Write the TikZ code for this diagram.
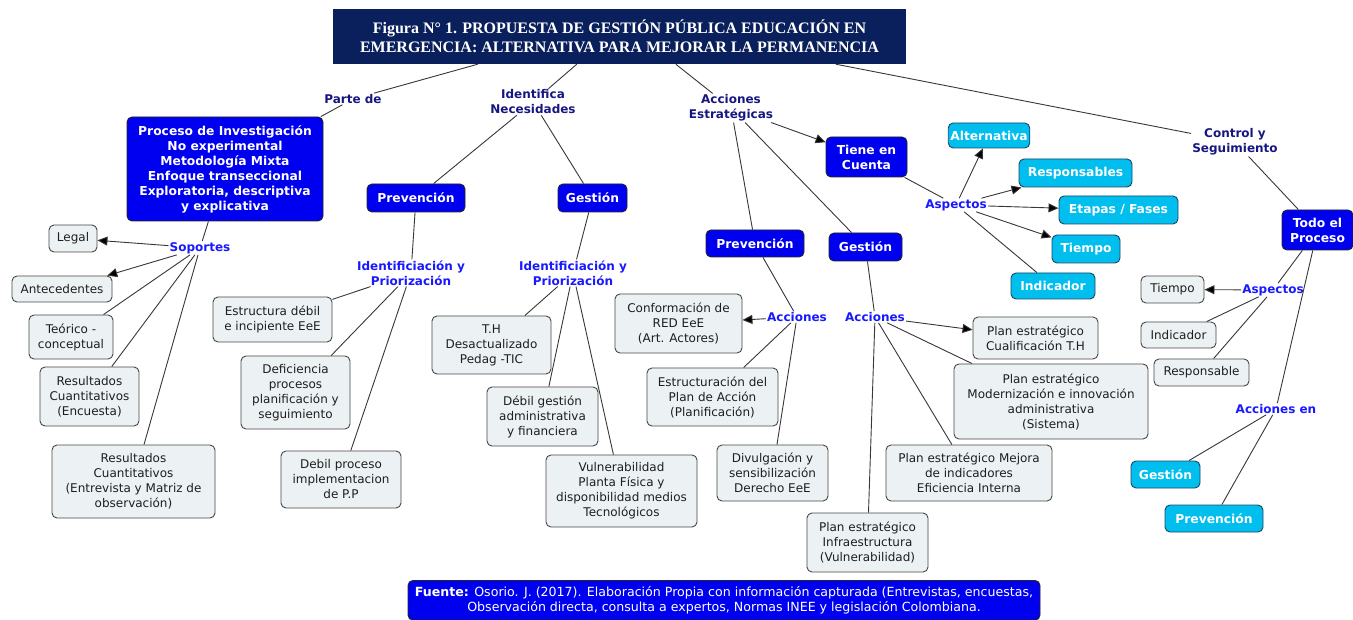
\documentclass[tikz,border=0pt]{standalone}
\usepackage{fontspec}
\setmainfont{DejaVu Sans}
\newfontfamily\titlefont{Liberation Serif}
\usetikzlibrary{arrows.meta}
\definecolor{navy}{RGB}{10,32,92}
\definecolor{bblue}{RGB}{0,0,240}
\definecolor{ccyan}{RGB}{0,190,238}
\definecolor{cyanborder}{RGB}{30,70,100}
\definecolor{boxfill}{RGB}{236,242,244}
\definecolor{boxgrey}{RGB}{70,70,70}
\definecolor{textgrey}{RGB}{30,30,30}
\definecolor{darklink}{RGB}{22,22,130}
\definecolor{brightlink}{RGB}{25,25,255}
\definecolor{linegrey}{RGB}{55,55,55}
\tikzset{
  base/.style={rounded corners=5pt, line width=0.9pt, align=center, inner sep=2pt,
    font=\fontsize{12}{15}\selectfont},
  greybox/.style={base, draw=boxgrey, fill=boxfill, text=textgrey},
  bluebox/.style={base, draw=black!85, fill=bblue, text=white,
    font=\bfseries\fontsize{12.3}{15}\selectfont},
  cyanbox/.style={base, draw=cyanborder, fill=ccyan, text=white,
    font=\bfseries\fontsize{12.3}{15}\selectfont},
  lnk/.style={text=darklink, font=\bfseries\fontsize{12}{15}\selectfont, align=center, inner sep=1pt},
  lnkb/.style={lnk, text=brightlink},
  con/.style={draw=linegrey, line width=0.9pt},
  arr/.style={con, -{Triangle[length=10pt,width=9pt,fill=black]}},
}
\begin{document}
\begin{tikzpicture}[x=1pt,y=-1pt]
\useasboundingbox (0,0) rectangle (1353,620);
% title
\node[fill=navy, text=white, minimum width=573pt, minimum height=55pt, align=center,
  font=\titlefont\bfseries\fontsize{16}{18.5}\selectfont, inner sep=0pt] (title) at (619.5,36.5)
  {Figura N° 1. PROPUESTA DE GESTIÓN PÚBLICA EDUCACIÓN EN\\EMERGENCIA: ALTERNATIVA PARA MEJORAR LA PERMANENCIA};
% linking phrases (top level)
\node[lnk] (partede) at (353,99) {Parte de};
\node[lnk] (ident) at (533,102) {Identifica\\Necesidades};
\node[lnk] (accest) at (731,108) {Acciones\\Estratégicas};
\node[lnk] (control) at (1235,142) {Control y\\Seguimiento};
% left branch
\node[bluebox, minimum width=196pt, minimum height=104pt] (proceso) at (225,169)
  {Proceso de Investigación\\No experimental\\Metodología Mixta\\Enfoque transeccional\\Exploratoria, descriptiva\\y explicativa};
\node[lnkb] (soportes) at (200,248) {Soportes};
\node[greybox, minimum width=48pt, minimum height=27pt] (legal) at (73,238.5) {Legal};
\node[greybox, minimum width=100pt, minimum height=26pt] (ante) at (62,289) {Antecedentes};
\node[greybox, minimum width=84pt, minimum height=44pt] (teor) at (71,337) {Teórico -\\conceptual};
\node[greybox, minimum width=99pt, minimum height=59pt] (resenc) at (89.5,396.5) {Resultados\\Cuantitativos\\(Encuesta)};
\node[greybox, minimum width=163pt, minimum height=73pt] (resent) at (133.5,481.5) {Resultados\\Cuantitativos\\(Entrevista y Matriz de\\observación)};
% identifica necesidades
\node[bluebox, minimum width=98pt, minimum height=28pt] (prev1) at (416,198) {Prevención};
\node[bluebox, minimum width=69pt, minimum height=28pt] (gest1) at (592.5,198) {Gestión};
\node[lnkb] (ip1) at (411,273) {Identificiación y\\Priorización};
\node[lnkb] (ip2) at (573,273) {Identificiación y\\Priorización};
\node[greybox, minimum width=119pt, minimum height=45pt] (estructura) at (272.5,319.5) {Estructura débil\\e incipiente EeE};
\node[greybox, minimum width=109pt, minimum height=73pt] (deficiencia) at (295.5,392.5) {Deficiencia\\procesos\\planificación y\\seguimiento};
\node[greybox, minimum width=120pt, minimum height=57pt] (debil) at (341,479.5) {Debil proceso\\implementacion\\de P.P};
\node[greybox, minimum width=119pt, minimum height=58pt] (th) at (491.5,345) {T.H\\Desactualizado\\Pedag -TIC};
\node[greybox, minimum width=111pt, minimum height=59pt] (debilgest) at (542.5,416.5) {Débil gestión\\administrativa\\y financiera};
\node[greybox, minimum width=151pt, minimum height=72pt] (vulner) at (621.5,491) {Vulnerabilidad\\Planta Física y\\disponibilidad medios\\Tecnológicos};
% acciones estrategicas
\node[bluebox, minimum width=81pt, minimum height=40pt] (tiene) at (866.5,157) {Tiene en\\Cuenta};
\node[bluebox, minimum width=98pt, minimum height=27pt] (prev2) at (755,243.5) {Prevención};
\node[bluebox, minimum width=73pt, minimum height=28pt] (gest2) at (865.5,247) {Gestión};
\node[lnkb] (asp1) at (956,205) {Aspectos};
\node[cyanbox, minimum width=66pt, minimum height=25pt] (alt) at (989,135.5) {Alternativa};
\node[cyanbox, minimum width=113pt, minimum height=28pt] (resp) at (1075.5,173) {Responsables};
\node[cyanbox, minimum width=119pt, minimum height=28pt] (etapas) at (1118.5,210) {Etapas / Fases};
\node[cyanbox, minimum width=68pt, minimum height=28pt] (tiempo1) at (1086,249) {Tiempo};
\node[cyanbox, minimum width=84pt, minimum height=26pt] (ind1) at (1053,286) {Indicador};
\node[lnkb] (acc1) at (797,317) {Acciones};
\node[lnkb] (acc2) at (875,317) {Acciones};
\node[greybox, minimum width=127pt, minimum height=59pt] (conform) at (678.5,323.5) {Conformación de\\RED EeE\\(Art. Actores)};
\node[greybox, minimum width=131pt, minimum height=58pt] (estruct) at (712.5,397) {Estructuración del\\Plan de Acción\\(Planificación)};
\node[greybox, minimum width=111pt, minimum height=56pt] (divulg) at (772.5,473) {Divulgación y\\sensibilización\\Derecho EeE};
\node[greybox, minimum width=125pt, minimum height=42pt] (plancual) at (1035.5,338) {Plan estratégico\\Cualificación T.H};
\node[greybox, minimum width=194pt, minimum height=75pt] (planmod) at (1051,401.5) {Plan estratégico\\Modernización e innovación\\administrativa\\(Sistema)};
\node[greybox, minimum width=166pt, minimum height=56pt] (planmej) at (969,473) {Plan estratégico Mejora\\de indicadores\\Eficiencia Interna};
\node[greybox, minimum width=121pt, minimum height=59pt] (planinf) at (867.5,542.5) {Plan estratégico\\Infraestructura\\(Vulnerabilidad)};
% control y seguimiento
\node[bluebox, minimum width=71pt, minimum height=40pt] (todo) at (1317.5,230) {Todo el\\Proceso};
\node[lnkb] (asp2) at (1273,290) {Aspectos};
\node[greybox, minimum width=63pt, minimum height=27pt] (tiempo2) at (1172.5,289.5) {Tiempo};
\node[greybox, minimum width=75pt, minimum height=26pt] (ind2) at (1178.5,335) {Indicador};
\node[greybox, minimum width=95pt, minimum height=27pt] (respons) at (1201.5,372.5) {Responsable};
\node[lnkb] (accen) at (1276,409) {Acciones en};
\node[cyanbox, minimum width=69pt, minimum height=27pt] (gest3) at (1165.5,474.5) {Gestión};
\node[cyanbox, minimum width=98pt, minimum height=27pt] (prev3) at (1214,518.5) {Prevención};
% footer
\node[base, draw=black!85, fill=bblue, text=white, minimum width=632pt, inner ysep=6pt,
  font=\fontsize{12.6}{15}\selectfont, anchor=north] (fuente) at (724,580)
  {\textbf{Fuente:} Osorio. J. (2017). Elaboración Propia con información capturada (Entrevistas, encuestas,\\Observación directa, consulta a expertos, Normas INEE y legislación Colombiana.};
% connectors
\draw[con] ([xshift=145pt]title.south west) -- (partede);
\draw[con] (partede) -- (proceso);
\draw[con] ([xshift=244pt]title.south west) -- (ident);
\draw[con] (ident) -- (prev1);
\draw[con] (ident) -- (gest1);
\draw[con] ([xshift=343pt]title.south west) -- (accest);
\draw[arr] (accest) -- (tiene);
\draw[con] (accest) -- (prev2);
\draw[con] (accest) -- (gest2);
\draw[con] ([xshift=503pt]title.south west) -- (control);
\draw[con] (control) -- (todo);
\draw[con] (proceso) -- (soportes);
\draw[arr] (soportes) -- (legal);
\draw[arr] (soportes) -- (ante);
\draw[con] (soportes) -- (teor);
\draw[con] (soportes) -- (resenc);
\draw[con] (soportes) -- (resent);
\draw[con] (prev1) -- (ip1);
\draw[con] (ip1) -- (estructura);
\draw[con] (ip1) -- (deficiencia);
\draw[con] (ip1) -- (debil);
\draw[con] (gest1) -- (ip2);
\draw[con] (ip2) -- (th);
\draw[con] (ip2) -- (debilgest);
\draw[con] (ip2) -- (vulner);
\draw[con] (tiene) -- (asp1);
\draw[arr] (asp1) -- (alt);
\draw[arr] (asp1) -- (resp);
\draw[arr] (asp1) -- (etapas);
\draw[arr] (asp1) -- (tiempo1);
\draw[con] (asp1) -- (ind1);
\draw[con] (prev2) -- (acc1);
\draw[arr] (acc1) -- (conform);
\draw[con] (acc1) -- (estruct);
\draw[con] (acc1) -- (divulg);
\draw[con] (gest2) -- (acc2);
\draw[arr] (acc2) -- (plancual);
\draw[con] (acc2) -- (planmod);
\draw[con] (acc2) -- (planmej);
\draw[con] (acc2) -- (planinf);
\draw[con] (todo) -- (asp2);
\draw[arr] (asp2) -- (tiempo2);
\draw[con] (asp2) -- (ind2);
\draw[con] (asp2) -- (respons);
\draw[con] (todo) -- (accen);
\draw[con] (accen) -- (gest3);
\draw[con] (accen) -- (prev3);
\end{tikzpicture}
\end{document}
